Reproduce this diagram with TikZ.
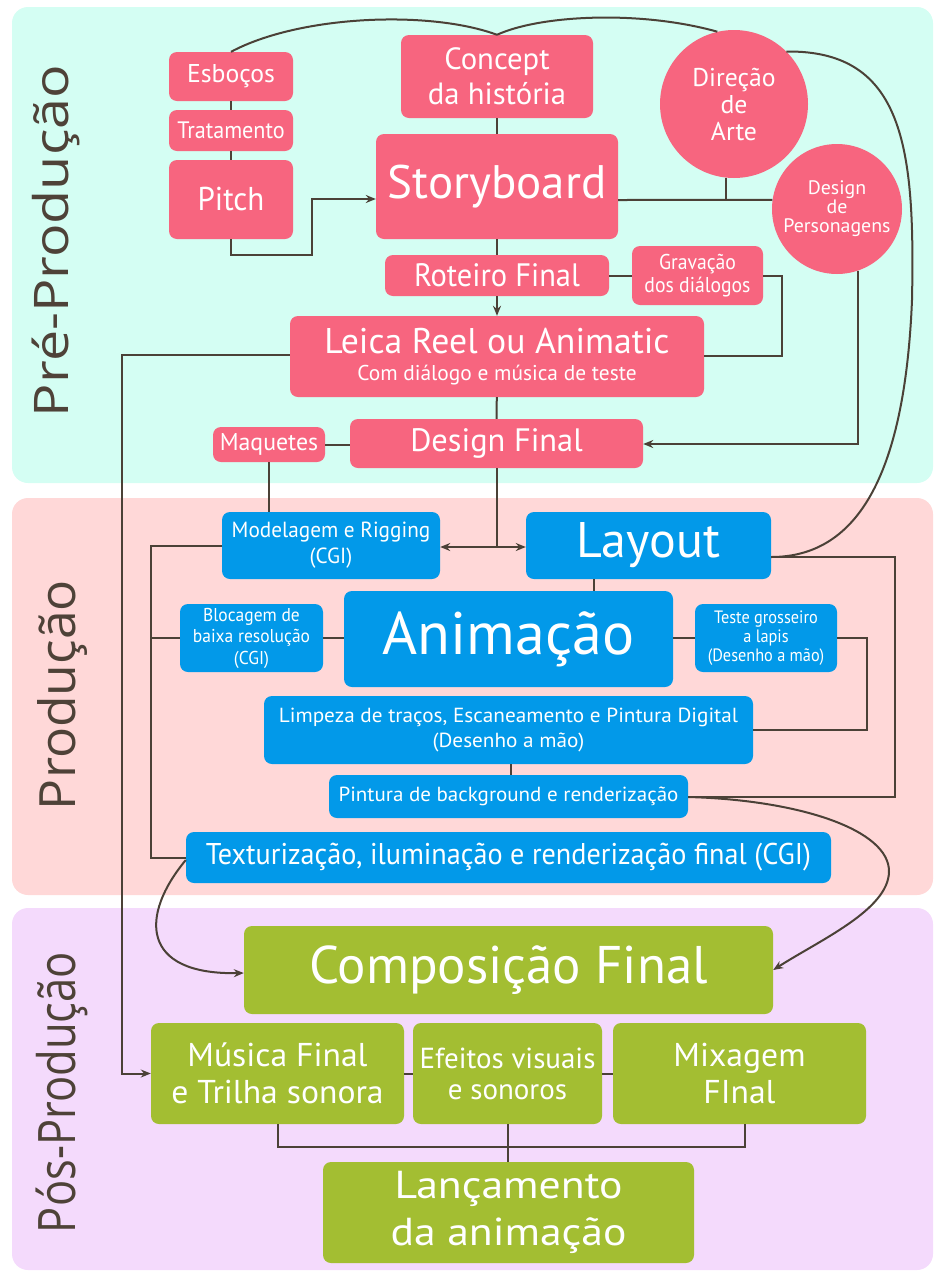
\documentclass[tikz,border=0pt]{standalone}
\usepackage{fontspec}
\setmainfont{PT Sans}
\newfontfamily\labfont{Open Sans}
\usetikzlibrary{arrows.meta}
\definecolor{prebg}{RGB}{212,254,243}
\definecolor{prodbg}{RGB}{255,216,216}
\definecolor{posbg}{RGB}{244,218,252}
\definecolor{pinkc}{RGB}{247,101,127}
\definecolor{bluec}{RGB}{2,153,233}
\definecolor{greenc}{RGB}{163,190,50}
\definecolor{linec}{RGB}{75,65,55}
\definecolor{labc}{RGB}{78,66,56}
\begin{document}
\begin{tikzpicture}[x=1pt,y=-1pt,
  panel/.style={rounded corners=16pt},
  box/.style={rounded corners=8pt, inner sep=0pt, align=center, text=white},
  pinkb/.style={box, fill=pinkc},
  blueb/.style={box, fill=bluec},
  greenb/.style={box, fill=greenc},
  circ/.style={circle, fill=pinkc, inner sep=0pt, align=center, text=white},
  sz/.style n args={2}{minimum width=#1pt, minimum height=#2pt},
  fs/.style n args={3}{font=\fontsize{#1}{#2}\selectfont\addfontfeatures{FakeStretch=#3}},
  conn/.style={draw=linec, line width=2pt},
  arr/.style={conn, -{Stealth[length=10pt,width=8pt]}},
  lab/.style={rotate=90, text=labc, inner sep=0pt}
]
\useasboundingbox (0,0) rectangle (935,1272);
% panels
\fill[prebg, panel] (12,7) rectangle (933,483);
\fill[prodbg, panel] (12,498) rectangle (933,895);
\fill[posbg, panel] (12,908) rectangle (933,1270);
% section labels
\node[lab] (lpre) at (56,241) {\resizebox*{352pt}{48pt}{\labfont Pré-Produção}};
\node[lab] (lprod) at (63,695) {\resizebox*{230pt}{50pt}{\labfont Produção}};
\node[lab] (lpos) at (61.5,1092.5) {\resizebox*{281pt}{52pt}{\labfont Pós-Produção}};
% pre-production nodes
\node[pinkb, sz={124}{49}, fs={25.7}{28}{1.0}] (esb) at (231,76.5) {Esboços};
\node[pinkb, sz={124}{41}, fs={23.8}{26}{0.93}] (trat) at (231,130.5) {Tratamento};
\node[pinkb, sz={124}{79}, fs={33}{36}{0.94}] (pitch) at (231,199.5) {Pitch};
\node[pinkb, sz={192}{83}, fs={30.7}{35}{1.0}] (concept) at (497,76.5) {Concept\\da história};
\node[pinkb, sz={242}{105}, fs={47}{50}{1.0}] (story) at (497,186.5) {Storyboard};
\node[pinkb, sz={224}{41}, fs={32.4}{34}{0.94}] (roteiro) at (497,275.5) {Roteiro Final};
\node[pinkb, sz={131}{59}, fs={21.4}{23}{0.92}] (grav) at (697.5,275.5) {Gravação\\dos diálogos};
\node[circ, minimum size=148pt, fs={25.7}{27}{1.0}] (dir) at (734,104) {Direção\\de\\Arte};
\node[circ, minimum size=130pt, fs={19.5}{19}{1.02}] (desp) at (837,209) {Design\\de\\Personagens};
\node[pinkb, sz={414}{81}, fs={21.4}{27}{1.0}] (leica) at (497,356.5) {{\fontsize{35.7}{38}\selectfont Leica Reel ou Animatic}\\Com diálogo e música de teste};
\node[pinkb, sz={293}{49}, fs={32.4}{34}{1.0}] (dfinal) at (496.5,443.5) {Design Final};
\node[pinkb, sz={112}{35}, fs={24.3}{26}{0.98}] (maq) at (269,444.5) {Maquetes};
% production nodes
\node[blueb, sz={218}{67}, fs={21.9}{26}{0.97}] (model) at (331,545.5) {Modelagem e Rigging\\(CGI)};
\node[blueb, sz={245}{67}, fs={50}{52}{1.0}] (layout) at (648.5,545.5) {Layout};
\node[blueb, sz={143}{68}, fs={18.6}{21.5}{0.94}] (bloc) at (251.5,638) {Blocagem de\\baixa resolução\\(CGI)};
\node[blueb, sz={329}{96}, fs={60}{62}{1.0}] (anim) at (508.5,639) {Animação};
\node[blueb, sz={142}{68}, fs={17.9}{19}{0.91}] (teste) at (766,638) {Teste grosseiro\\a lapis\\(Desenho a mão)};
\node[blueb, sz={489}{68}, fs={20.4}{25}{1.04}] (limp) at (508.5,730) {Limpeza de traços, Escaneamento e Pintura Digital\\(Desenho a mão)};
\node[blueb, sz={359}{43}, fs={20.4}{22}{1.03}] (pint) at (508.5,796.5) {Pintura de background e renderização};
\node[blueb, sz={645}{51}, fs={30}{32}{0.94}] (text) at (508.5,857.5) {Texturização, iluminação e renderização final (CGI)};
% post-production nodes
\node[greenb, sz={529}{88}, fs={53}{55}{1.0}] (comp) at (508.5,970) {Composição Final};
\node[greenb, sz={253}{101}, fs={33}{37}{1.02}] (mus) at (277.5,1073.5) {Música Final\\e Trilha sonora};
\node[greenb, sz={189}{101}, fs={29}{31}{1.0}] (efe) at (507.5,1073.5) {Efeitos visuais\\e sonoros};
\node[greenb, sz={253}{101}, fs={33}{37}{1.02}] (mix) at (739.5,1073.5) {Mixagem\\FInal};
\node[greenb, sz={371}{101}, fs={39}{47}{1.12}] (lanc) at (508.5,1212.5) {Lançamento\\da animação};
% connectors: pre-production
\draw[conn] (esb) -- (trat);
\draw[conn] (trat) -- (pitch);
\draw[arr] (pitch.south) -- (231,255) -- (312,255) -- (312,199) -- (story.west |- 0,199);
\draw[conn] (concept) -- (story);
\draw[conn] (story) -- (roteiro);
\draw[arr] (roteiro) -- (leica);
\draw[conn] (leica) -- (dfinal);
\draw[conn] (roteiro) -- (grav);
\draw[conn] (story.east |- 0,200) -- (desp.172);
\draw[conn] (dir.264) -- (dir.264 |- 0,200);
\draw[conn] (esb.north) .. controls (300,15) and (430,10) .. (concept.north);
\draw[conn] (concept.north) .. controls (540,15) and (640,10) .. (dir.103);
\draw[conn] (dir.45) .. controls (905,50) and (915,150) .. (912,300) .. controls (905,470) and (860,557) .. (layout.east |- 0,557);
\draw[conn] (grav.east) -- (782,275.5) -- (782,356) -- (leica.east |- 0,356);
\draw[arr] (desp.289) -- (desp.289 |- 0,444) -- (dfinal.east |- 0,444);
\draw[conn] (dfinal.south) -- (dfinal.south |- 0,547) coordinate (j);
\draw[arr] (j) -- (model.east |- 0,547);
\draw[arr] (j) -- (layout.west |- 0,547);
\draw[conn] (maq.east) -- (dfinal.west |- maq.east);
\draw[conn] (maq.south) -- (maq.south |- model.north);
% connectors: production
\draw[arr] (leica.west |- 0,355) -- (122,355) -- (122,1073.5) -- (mus.west);
\draw[conn] (model.west) -- (151,545.5) -- (151,857.5) -- (text.west);
\draw[conn] (bloc.west) -- (151,638);
\draw[conn] (bloc.east) -- (anim.west |- bloc.east);
\draw[conn] (anim.east |- teste.west) -- (teste.west);
\draw[conn] (teste.east) -- (867,638) -- (867,730) -- (limp.east);
\draw[conn] (layout.south -| 594,0) -- (anim.north -| 594,0);
\draw[conn] (layout.east |- 0,557) -- (895,557) -- (895,797) -- (pint.east |- 0,797);
\draw[conn] (limp.south -| 511,0) -- (pint.north -| 511,0);
\draw[arr] (pint.east |- 0,797) .. controls (800,800) and (890,830) .. (889,872) .. controls (888,910) and (820,940) .. (comp.east);
\draw[arr] (text.west |- 0,860) .. controls (140,915) and (140,975) .. (comp.west |- 0,973);
% connectors: post-production
\draw[conn] (mus) -- (efe);
\draw[conn] (efe) -- (mix);
\draw[conn] (mus.south) -- (277.5,1147) -- (745,1147) -- (mix.south -| 745,0);
\draw[conn] (efe.south) -- (efe.south |- lanc.north);
\end{tikzpicture}
\end{document}
